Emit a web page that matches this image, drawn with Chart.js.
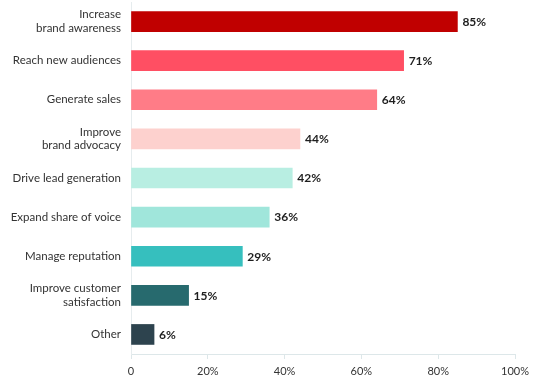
<!DOCTYPE html>
<html>
<head>
<meta charset="utf-8">
<script src="https://cdn.jsdelivr.net/npm/chart.js@4/dist/chart.umd.min.js"></script>
<style>
  html, body { margin: 0; padding: 0; background: #ffffff; }
  #wrap { width: 547px; height: 383px; position: relative; }
</style>
</head>
<body>
<div id="wrap"><canvas id="c" width="547" height="383"></canvas></div>
<script>
const categories = [
  ["Increase", "brand awareness"],
  "Reach new audiences",
  "Generate sales",
  ["Improve", "brand advocacy"],
  "Drive lead generation",
  "Expand share of voice",
  "Manage reputation",
  ["Improve customer", "satisfaction"],
  "Other"
];
const values = [85, 71, 64, 44, 42, 36, 29, 15, 6];
const xTickLabels = ["0", "20%", "40%", "60%", "80%", "100%"];
const barColors = ["#C00000", "#FF4F63", "#FF7C87", "#FDD1CE", "#B8EEE2", "#A0E6DB", "#36BFBE", "#276A6E", "#2D434E"];

const FONT = 'Lato, "DejaVu Sans", sans-serif';

// Right-aligned multi-line category labels, positioned by the y scale
const categoryLabels = {
  id: 'categoryLabels',
  afterDraw(chart) {
    const ctx = chart.ctx;
    const y = chart.scales.y;
    const lineH = 13.6;
    ctx.save();
    ctx.font = '11.5px ' + FONT;
    ctx.fillStyle = '#333333';
    ctx.textAlign = 'right';
    ctx.textBaseline = 'middle';
    const xRight = y.right - 10;
    categories.forEach((lab, i) => {
      const lines = Array.isArray(lab) ? lab : [lab];
      const cy = y.getPixelForValue(i);
      const start = cy - (lines.length - 1) * lineH / 2;
      lines.forEach((ln, k) => ctx.fillText(ln, xRight, start + k * lineH));
    });
    ctx.restore();
  }
};

const valueLabels = {
  id: 'valueLabels',
  afterDatasetsDraw(chart) {
    const ctx = chart.ctx;
    const meta = chart.getDatasetMeta(0);
    ctx.save();
    ctx.font = 'bold 12px ' + FONT;
    ctx.fillStyle = '#1e1e1e';
    ctx.textAlign = 'left';
    ctx.textBaseline = 'middle';
    meta.data.forEach((bar, i) => {
      ctx.fillText(values[i] + '%', bar.x + 5, bar.y + 0.5);
    });
    ctx.restore();
  }
};

new Chart(document.getElementById('c'), {
  type: 'bar',
  data: {
    labels: categories,
    datasets: [{
      data: values,
      backgroundColor: barColors,
      borderWidth: 0,
      barThickness: 20
    }]
  },
  options: {
    indexAxis: 'y',
    responsive: false,
    animation: false,
    layout: { padding: { top: 2, right: 32, bottom: 0, left: 0 } },
    plugins: {
      legend: { display: false },
      tooltip: { enabled: false }
    },
    scales: {
      x: {
        min: 0,
        max: 100,
        afterFit(scale) { scale.height = 29; },
        ticks: {
          stepSize: 20,
          padding: 6,
          color: '#333333',
          font: { family: FONT, size: 11 },
          callback: (v, i) => xTickLabels[i]
        },
        grid: {
          drawOnChartArea: false,
          drawTicks: true,
          tickLength: 5,
          color: '#dde7e9'
        },
        border: { display: true, color: '#dde7e9' }
      },
      y: {
        afterFit(scale) { scale.width = 131; },
        ticks: { display: false },
        grid: {
          drawOnChartArea: false,
          drawTicks: false,
          color: '#e6ecee'
        },
        border: { display: true, color: '#e6ecee' }
      }
    }
  },
  plugins: [valueLabels, categoryLabels]
});
</script>
</body>
</html>
